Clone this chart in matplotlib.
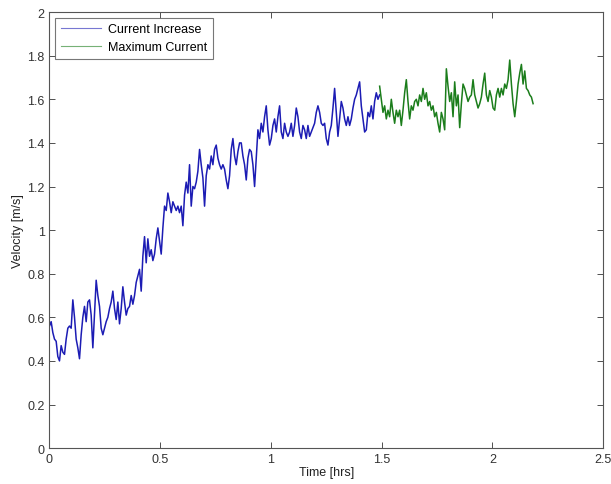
import numpy as np
import matplotlib
matplotlib.use("Agg")
import matplotlib.pyplot as plt

plt.rcParams['font.family'] = ['Liberation Sans', 'DejaVu Sans']

# ---- data ----
blue_t_start, blue_t_end = 0.0, 1.491
green_t_start, green_t_end = 1.491, 2.184

current_increase = [
    0.56, 0.58, 0.53, 0.50, 0.49, 0.42, 0.40, 0.47, 0.44, 0.43,
    0.50, 0.55, 0.56, 0.55, 0.68, 0.60, 0.50, 0.46, 0.41, 0.52,
    0.60, 0.65, 0.58, 0.67, 0.68, 0.61, 0.46, 0.61, 0.77, 0.70,
    0.65, 0.55, 0.52, 0.55, 0.58, 0.60, 0.64, 0.67, 0.72, 0.64,
    0.59, 0.67, 0.57, 0.64, 0.74, 0.67, 0.61, 0.64, 0.65,
    0.70, 0.66, 0.70, 0.76, 0.79, 0.82, 0.72, 0.88, 0.97, 0.85,
    0.96, 0.88, 0.91, 0.86, 0.89, 0.96, 1.01, 0.95, 0.89, 1.01,
    1.11, 1.09, 1.17, 1.13, 1.08, 1.13, 1.11, 1.09, 1.11, 1.08,
    1.11, 1.02, 1.16, 1.22, 1.17, 1.30, 1.11, 1.20, 1.19, 1.22,
    1.27, 1.37, 1.30, 1.24, 1.11, 1.25, 1.30, 1.28,
    1.34, 1.30, 1.37, 1.39, 1.33, 1.30, 1.28, 1.30, 1.28, 1.23,
    1.19, 1.25, 1.37, 1.42, 1.34, 1.30, 1.36, 1.40, 1.40, 1.34,
    1.30, 1.23, 1.33, 1.37, 1.36, 1.30, 1.20, 1.33, 1.46, 1.42,
    1.49, 1.45, 1.52, 1.57, 1.46, 1.39, 1.42, 1.48, 1.51, 1.45,
    1.52, 1.57, 1.45, 1.42, 1.49, 1.45, 1.43, 1.45,
    1.49, 1.43, 1.48, 1.56, 1.52, 1.45, 1.42, 1.48, 1.46, 1.42,
    1.48, 1.43, 1.45, 1.47, 1.49, 1.54, 1.57, 1.54, 1.49, 1.48,
    1.49, 1.42, 1.39, 1.45, 1.48, 1.56, 1.65, 1.54, 1.43, 1.51,
    1.59, 1.56, 1.51, 1.48, 1.52, 1.48, 1.51, 1.56, 1.60, 1.62,
    1.65, 1.68, 1.57, 1.51, 1.45, 1.46, 1.54, 1.52, 1.57, 1.51,
    1.59, 1.63, 1.60, 1.62,
]

maximum_current = [
    1.66, 1.60, 1.54, 1.57, 1.51, 1.55, 1.52, 1.60, 1.54, 1.49,
    1.55, 1.52, 1.55, 1.48, 1.55, 1.63, 1.69, 1.59, 1.51, 1.57,
    1.55, 1.59, 1.60, 1.57, 1.62, 1.59, 1.65, 1.60, 1.63, 1.57,
    1.59, 1.55, 1.57, 1.52, 1.54, 1.49, 1.45, 1.54, 1.51, 1.46,
    1.74, 1.66, 1.59, 1.63, 1.52, 1.68, 1.57, 1.62, 1.47,
    1.58, 1.67, 1.65, 1.62, 1.59, 1.61, 1.62, 1.69, 1.62, 1.59,
    1.56, 1.58, 1.61, 1.67, 1.72, 1.62, 1.59, 1.64, 1.61, 1.56,
    1.55, 1.62, 1.65, 1.61, 1.65, 1.62, 1.67, 1.65, 1.69, 1.78,
    1.67, 1.58, 1.52, 1.59, 1.67, 1.72, 1.76, 1.67, 1.73, 1.65,
    1.64, 1.62, 1.61, 1.58,
]

series_labels = ["Current Increase", "Maximum Current"]
x_ticks = [0, 0.5, 1, 1.5, 2, 2.5]
x_tick_labels = ["0", "0.5", "1", "1.5", "2", "2.5"]
y_ticks = [0, 0.2, 0.4, 0.6, 0.8, 1.0, 1.2, 1.4, 1.6, 1.8, 2.0]
y_tick_labels = ["0", "0.2", "0.4", "0.6", "0.8", "1", "1.2", "1.4", "1.6", "1.8", "2"]

t_blue = np.linspace(blue_t_start, blue_t_end, len(current_increase))
t_green = np.linspace(green_t_start, green_t_end, len(maximum_current))

fig = plt.figure(figsize=(6.11, 4.85), dpi=100)
ax = fig.add_axes([0.081, 0.074, 0.906, 0.899])

ax.plot(t_blue, current_increase, color='#1c1cb4', lw=1.1, label=series_labels[0])
ax.plot(t_green, maximum_current, color='#1b7d1b', lw=1.1, label=series_labels[1])

ax.set_xlim(0, 2.5)
ax.set_ylim(0, 2)
ax.set_xticks(x_ticks)
ax.set_xticklabels(x_tick_labels)
ax.set_yticks(y_ticks)
ax.set_yticklabels(y_tick_labels)
ax.tick_params(direction='in', top=True, right=True, labelsize=9,
               colors='#333333', length=4, width=0.6)
for s in ax.spines.values():
    s.set_color('#555555')
    s.set_linewidth(0.8)

ax.set_xlabel("Time [hrs]", fontsize=9, color='#222222', labelpad=1)
ax.set_ylabel("Velocity [m/s]", fontsize=9, color='#222222', labelpad=2)

leg = ax.legend(loc='upper left', fontsize=9, frameon=True, fancybox=False,
                borderaxespad=0.45, handlelength=3.2, borderpad=0.45,
                labelspacing=0.45, handletextpad=0.6)
leg.get_frame().set_edgecolor('#555555')
leg.get_frame().set_linewidth(0.8)
for line in leg.get_lines():
    line.set_linewidth(0.8)
    line.set_alpha(0.6)

fig.savefig("out.png", dpi=100)
